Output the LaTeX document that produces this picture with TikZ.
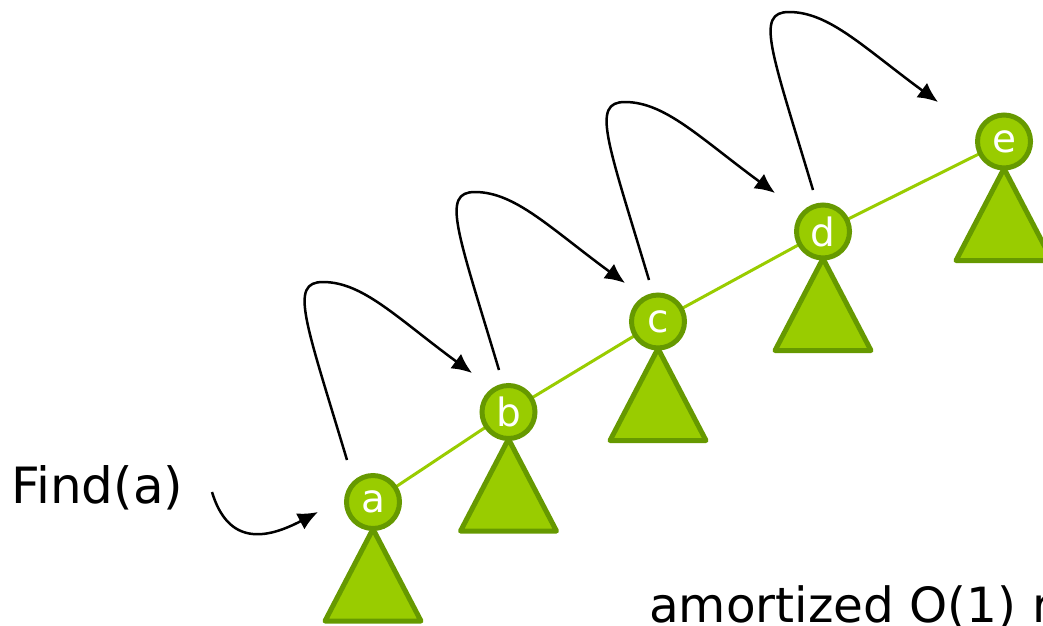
\documentclass[tikz,border=0pt]{standalone}
\usepackage{fontspec}
\setmainfont{DejaVu Sans}
\usetikzlibrary{arrows.meta}
\definecolor{gfill}{HTML}{99CC00}
\definecolor{gline}{HTML}{669900}
\definecolor{glink}{HTML}{99CC00}
\begin{document}
\begin{tikzpicture}[x=1pt,y=-1pt,
  vert/.style={circle,fill=gfill,draw=gline,line width=5pt,minimum size=53pt,inner sep=0pt,text=white,font=\fontsize{39}{40}\selectfont},
  subtree/.style={fill=gfill,draw=gline,line width=5pt,line join=round},
  link/.style={draw=glink,line width=3pt},
  hop/.style={draw=black,line width=2.5pt,-{Latex[length=20pt,width=18pt]}},
  lbl/.style={font=\fontsize{50}{58}\selectfont,inner sep=0pt,anchor=base west}]
\useasboundingbox (0,0) rectangle (1043,625);
\clip (0,0) rectangle (1043,625);

% node positions
\coordinate (pa) at (373,502);
\coordinate (pb) at (508.5,412);
\coordinate (pc) at (658,321.5);
\coordinate (pd) at (823,231.5);
\coordinate (pe) at (1004,141.5);

% links behind
\draw[link] (pa) -- (pb) -- (pc) -- (pd) -- (pe);

% subtrees
\foreach \p in {pa,pb,pc,pd,pe}{
  \path[subtree] (\p) ++(0,27) -- ++(-48,92) -- ++(96,0) -- cycle;
}

% vertices
\node[vert] (a) at (pa) {a};
\node[vert] (b) at (pb) {b};
\node[vert] (c) at (pc) {c};
\node[vert] (d) at (pd) {d};
\node[vert] (e) at (pe) {e};

% hop arrows
\path (a.center) ++(-26,-42) coordinate (s1);
\path (b.center) ++(-36.5,-39) coordinate (t1);
\path (b.center) ++(-9.5,-42) coordinate (s2);
\path (c.center) ++(-33,-38.5) coordinate (t2);
\path (c.center) ++(-9,-41.5) coordinate (s3);
\path (d.center) ++(-48,-38.5) coordinate (t3);
\path (d.center) ++(-10,-41.5) coordinate (s4);
\path (e.center) ++(-66,-39.5) coordinate (t4);
\foreach \i in {1,2,3,4}{
  \path (s\i) ++(-24,-178) coordinate (p\i);
  \draw[hop] (s\i) .. controls +(-42,-140) and +(-34,0) .. (p\i)
                   .. controls +(40,0) and +(-75,-55) .. (t\i);
}

% Find(a)
\node[lbl] (find) at (11,503) {Find(a)};
\path (a.center) ++(-161,-10) coordinate (f0);
\path (a.center) ++(-55,10) coordinate (f1);
\draw[hop] (f0) .. controls +(16,53) and +(-53,28) .. (f1);

% bottom text
\node[lbl,font=\fontsize{48.5}{56}\selectfont] (amort) at (649,622) {amortized O(1) r};
\end{tikzpicture}
\end{document}
